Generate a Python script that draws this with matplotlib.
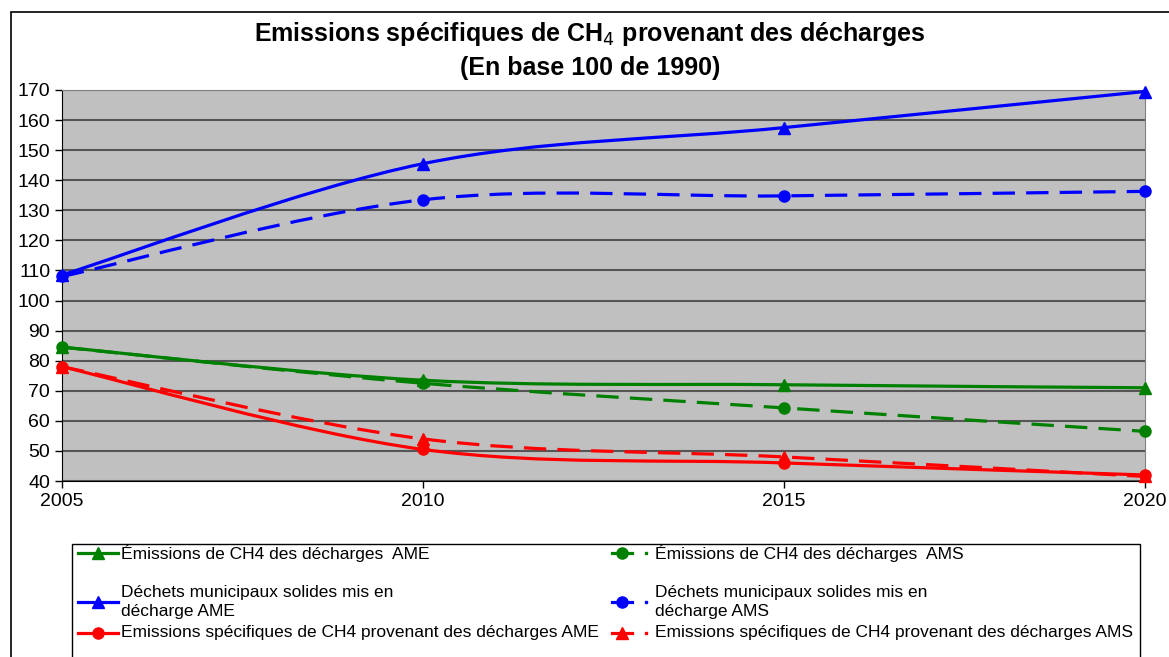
import numpy as np
import matplotlib.pyplot as plt
from matplotlib.path import Path
from matplotlib.patches import PathPatch, Rectangle
from matplotlib.lines import Line2D

plt.rcParams["font.family"] = ["Liberation Sans", "DejaVu Sans"]

years = [2005, 2010, 2015, 2020]

# séries (base 100 en 1990)
ch4_ame = [84.5, 73.5, 72.0, 71.0]
ch4_ams = [84.5, 72.5, 64.3, 56.5]
dms_ame = [108.5, 145.5, 157.5, 169.5]
dms_ams = [108.0, 133.5, 134.8, 136.3]
spec_ame = [78.0, 50.5, 46.0, 42.0]
spec_ams = [78.0, 54.0, 48.0, 41.5]

labels = [
    "Émissions de CH4 des décharges  AME",
    "Déchets municipaux solides mis en\ndécharge AME",
    "Emissions spécifiques de CH4 provenant des décharges AME",
    "Émissions de CH4 des décharges  AMS",
    "Déchets municipaux solides mis en\ndécharge AMS",
    "Emissions spécifiques de CH4 provenant des décharges AMS",
]

GREEN, BLUE, RED = "#008000", "#0000FF", "#FF0000"
DASH = (0, (7, 3.5))


def smooth_path(x, y):
    # courbe lissée façon Excel (Bezier passant par les points)
    pts = np.column_stack([x, y]).astype(float)
    ext = np.vstack([pts[0], pts, pts[-1]])
    verts = [pts[0]]
    codes = [Path.MOVETO]
    for i in range(len(pts) - 1):
        p0, p1, p2, p3 = ext[i], ext[i + 1], ext[i + 2], ext[i + 3]
        verts += [p1 + (p2 - p0) / 6, p2 - (p3 - p1) / 6, p2]
        codes += [Path.CURVE4] * 3
    return Path(verts, codes)


series = [
    (ch4_ame, GREEN, "-", "^"),
    (dms_ame, BLUE, "-", "^"),
    (spec_ame, RED, "-", "o"),
    (ch4_ams, GREEN, DASH, "o"),
    (dms_ams, BLUE, DASH, "o"),
    (spec_ams, RED, DASH, "^"),
]

fig = plt.figure(figsize=(11.69, 6.57), dpi=100)
W, H = 1169, 657
ax = fig.add_axes([62 / W, 1 - 481 / H, (1145 - 62) / W, (481 - 90) / H])
ax.set_facecolor("#C0C0C0")
ax.set_xlim(2005, 2020)
ax.set_ylim(40, 170)
ax.set_yticks(range(40, 171, 10))
ax.set_xticks(years)
ax.grid(axis="y", color="#555555", lw=1.5)
ax.set_axisbelow(True)
ax.tick_params(axis="both", labelsize=14, length=5, width=1, color="black", direction="out")
ax.tick_params(axis="x", pad=4)
for s in ["top", "right"]:
    ax.spines[s].set_color("#808080")
for s in ["left", "bottom"]:
    ax.spines[s].set_color("black")

for vals, col, ls, mk in series:
    patch = PathPatch(smooth_path(years, vals), fill=False, edgecolor=col,
                      lw=2.3, linestyle=ls, clip_on=False, zorder=3)
    ax.add_patch(patch)
    ax.plot(years, vals, linestyle="none", marker=mk, color=col,
            markersize=8, clip_on=False, zorder=4)

fig.text(590 / W, 1 - 34 / H, "Emissions spécifiques de CH$_4$ provenant des décharges",
         ha="center", va="center", fontsize=18, fontweight="bold")
fig.text(590 / W, 1 - 68 / H, "(En base 100 de 1990)",
         ha="center", va="center", fontsize=18, fontweight="bold")

# cadre du graphique
fig.add_artist(Rectangle((11 / W, -0.05), 1.2, 1 - 12 / H + 0.05, transform=fig.transFigure,
                         fill=False, edgecolor="black", lw=1.2))

# légende dessinée à la main
fig.add_artist(Rectangle((72 / W, -0.05), (1140 - 72) / W, 1 - 544 / H + 0.05,
                         transform=fig.transFigure, fill=False, edgecolor="black", lw=1))
rows_y = [553, 602, 633]
cols_x = [(78, 118, 121), (612, 632, 655)]
for k, (vals, col, ls, mk) in enumerate(series):
    c, r = divmod(k, 3)
    x0, x1, xt = cols_x[c]
    yy = 1 - rows_y[r] / H
    fig.add_artist(Line2D([x0 / W, x1 / W], [yy, yy], transform=fig.transFigure,
                          color=col, lw=2.3))
    fig.add_artist(Line2D([(x0 + x1) / 2 / W], [yy], transform=fig.transFigure,
                          color=col, marker=mk, markersize=8, linestyle="none"))
    if c == 1:
        fig.add_artist(Line2D([(x1 + 14) / W], [yy], transform=fig.transFigure,
                              color=col, marker="s", markersize=1.5, linestyle="none"))
    fig.text(xt / W, yy, labels[k], ha="left", va="center", fontsize=12.5, linespacing=1.35)

fig.savefig("out.png", dpi=100)
